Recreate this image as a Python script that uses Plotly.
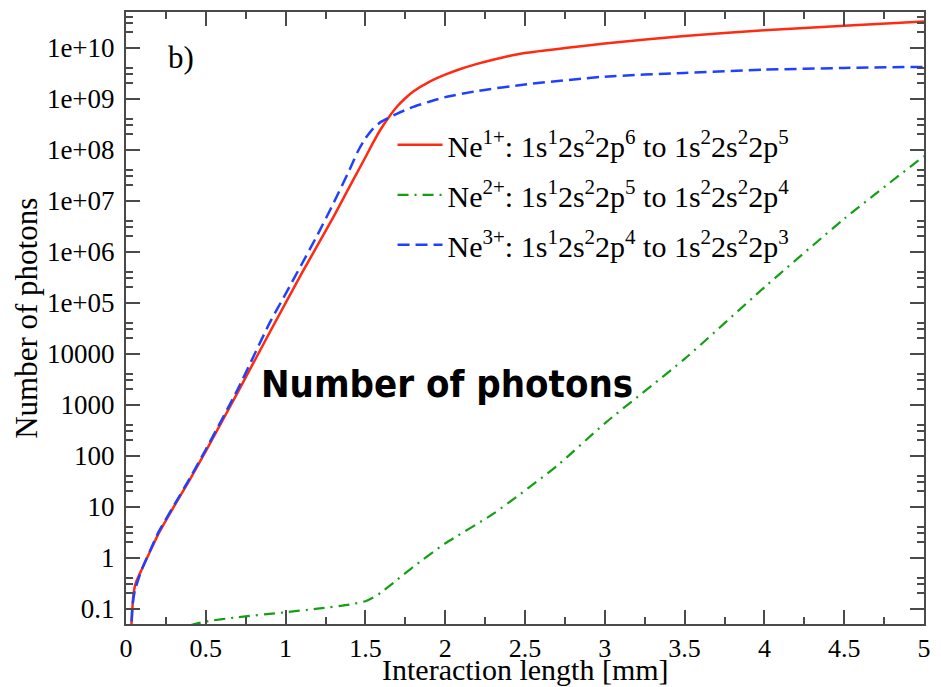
import plotly.graph_objects as go

# ---- data ----
x_ne1 = [0.03, 0.04, 0.045, 0.06, 0.1, 0.15, 0.2, 0.3, 0.4, 0.5, 0.7, 0.9, 1.1, 1.3, 1.4,
         1.5, 1.55, 1.6, 1.65, 1.7, 1.75, 1.8, 1.9, 2.0, 2.1, 2.2, 2.3, 2.4, 2.5, 2.75, 3.0,
         3.5, 4.0, 4.5, 5.0]
y_ne1 = [0.032, 0.1, 0.17, 0.31, 0.6, 1.3, 2.8, 10, 34, 123, 1740, 2.6e4, 3.7e5, 4.8e6, 1.86e7,
         7.1e7, 1.41e8, 2.63e8, 4.47e8, 7.1e8, 1.02e9, 1.38e9, 2.14e9, 2.95e9, 3.85e9,
         4.8e9, 5.8e9, 6.85e9, 7.85e9, 9.8e9, 1.2e10, 1.7e10, 2.19e10, 2.69e10, 3.24e10]

x_ne2 = [0.4, 0.5, 0.7, 1.0, 1.2, 1.4, 1.5, 1.55, 1.6, 1.7, 1.8, 2.0, 2.3, 2.7, 3.0, 3.5,
         4.0, 4.5, 5.0]
y_ne2 = [0.047, 0.056, 0.068, 0.085, 0.1, 0.12, 0.14, 0.166, 0.21, 0.37, 0.66, 1.9, 7.2, 63,
         430, 7900, 2.0e5, 4.4e6, 7.5e7]

x_ne3 = [0.03, 0.035, 0.04, 0.056, 0.1, 0.15, 0.2, 0.3, 0.4, 0.5, 0.7, 0.9, 1.0, 1.1, 1.2,
         1.3, 1.4, 1.45, 1.5, 1.55, 1.6, 1.7, 1.8, 1.9, 2.0, 2.2, 2.5, 3.0, 3.5, 4.0, 4.5, 5.0]
y_ne3 = [0.025, 0.05, 0.11, 0.23, 0.6, 1.35, 3.0, 10.5, 36, 132, 2000, 4.0e4, 1.48e5, 5.6e5,
         2.14e6, 8.9e6, 4.0e7, 8.9e7, 1.66e8, 2.63e8, 3.55e8, 5.1e8, 6.9e8, 8.7e8, 1.07e9,
         1.41e9, 1.9e9, 2.7e9, 3.2e9, 3.7e9, 4.0e9, 4.2e9]

names = [
    "Ne<sup>1+</sup>: 1s<sup>1</sup>2s<sup>2</sup>2p<sup>6</sup> to 1s<sup>2</sup>2s<sup>2</sup>2p<sup>5</sup>",
    "Ne<sup>2+</sup>: 1s<sup>1</sup>2s<sup>2</sup>2p<sup>5</sup> to 1s<sup>2</sup>2s<sup>2</sup>2p<sup>4</sup>",
    "Ne<sup>3+</sup>: 1s<sup>1</sup>2s<sup>2</sup>2p<sup>4</sup> to 1s<sup>2</sup>2s<sup>2</sup>2p<sup>3</sup>",
]

y_tickvals = [0.1, 1, 10, 100, 1000, 10000, 1e5, 1e6, 1e7, 1e8, 1e9, 1e10]
y_ticktext = ["0.1", "1", "10", "100", "1000", "10000", "1e+05", "1e+06", "1e+07",
              "1e+08", "1e+09", "1e+10"]
x_tickvals = [0, 0.5, 1, 1.5, 2, 2.5, 3, 3.5, 4, 4.5, 5]
x_ticktext = ["0", "0.5", "1", "1.5", "2", "2.5", "3", "3.5", "4", "4.5", "5"]

SERIF = "Liberation Serif, Times New Roman, serif"
AXC = "#4a4a4a"

fig = go.Figure()
fig.add_trace(go.Scatter(x=x_ne1, y=y_ne1, mode="lines", name=names[0], legendgroup="a",
                         line=dict(color="#ff2a12", width=2.5, shape="spline", smoothing=0.6)))
fig.add_trace(go.Scatter(x=x_ne2, y=y_ne2, mode="lines", name=names[1], legendgroup="b",
                         line=dict(color="#12a012", width=2.2, dash="11px,6px,2px,6px",
                                   shape="spline", smoothing=0.6)))
fig.add_trace(go.Scatter(x=x_ne3, y=y_ne3, mode="lines", name=names[2], legendgroup="c",
                         line=dict(color="#2040ff", width=2.5, dash="12px,6px",
                                   shape="spline", smoothing=0.6)))

minor_y = []
for k in range(-2, 11):
    for m in (2, 3, 4):
        minor_y.append(m * 10 ** k)

fig.update_layout(
    width=941, height=687,
    margin=dict(l=126, r=10, t=11, b=63),
    paper_bgcolor="white", plot_bgcolor="white",
    font=dict(family=SERIF, size=26, color="black"),
    showlegend=True,
    legend=dict(x=0.334, xanchor="left", y=0.8254, yanchor="top",
                bgcolor="rgba(0,0,0,0)", font=dict(family=SERIF, size=30),
                itemwidth=45, tracegroupgap=8),
    xaxis=dict(range=[0, 5], tickmode="array", tickvals=x_tickvals, ticktext=x_ticktext,
               ticks="inside", ticklen=14, tickwidth=1.5, tickcolor=AXC,
               showline=True, linecolor=AXC, linewidth=2, mirror="allticks",
               showgrid=False, zeroline=False,
               tickfont=dict(family=SERIF, size=26),
               minor=dict(dtick=0.25, ticks="inside", ticklen=7, tickwidth=1.5,
                          tickcolor=AXC, showgrid=False)),
    yaxis=dict(type="log", range=[-1.30103, 10.69897], tickmode="array",
               tickvals=y_tickvals, ticktext=y_ticktext,
               ticks="inside", ticklen=14, tickwidth=1.5, tickcolor=AXC,
               showline=True, linecolor=AXC, linewidth=2, mirror="allticks",
               showgrid=False, zeroline=False,
               tickfont=dict(family=SERIF, size=27), ticklabelstandoff=4,
               minor=dict(tickmode="array", tickvals=minor_y, ticks="inside", ticklen=7,
                          tickwidth=1.5, tickcolor=AXC, showgrid=False)),
)

fig.add_annotation(text="Interaction length [mm]", xref="paper", yref="paper",
                   x=0.5, y=-0.074, xanchor="center", yanchor="middle", showarrow=False,
                   font=dict(family=SERIF, size=30))
fig.add_annotation(text="Number of photons", xref="paper", yref="paper",
                   x=-0.1255, y=0.5, xanchor="center", yanchor="middle", showarrow=False,
                   textangle=-90, font=dict(family=SERIF, size=31))
fig.add_annotation(text="b)", xref="paper", yref="paper",
                   x=0.05, y=0.926, xanchor="left", yanchor="middle", showarrow=False,
                   font=dict(family=SERIF, size=31))
fig.add_annotation(text="<b>Number of photons</b>", xref="paper", yref="paper",
                   x=0.4025, y=0.3915, xanchor="center", yanchor="middle", showarrow=False,
                   font=dict(family="DejaVu Sans Condensed, Liberation Sans",
                             size=38, color="black"))

fig.write_html("out.html")
